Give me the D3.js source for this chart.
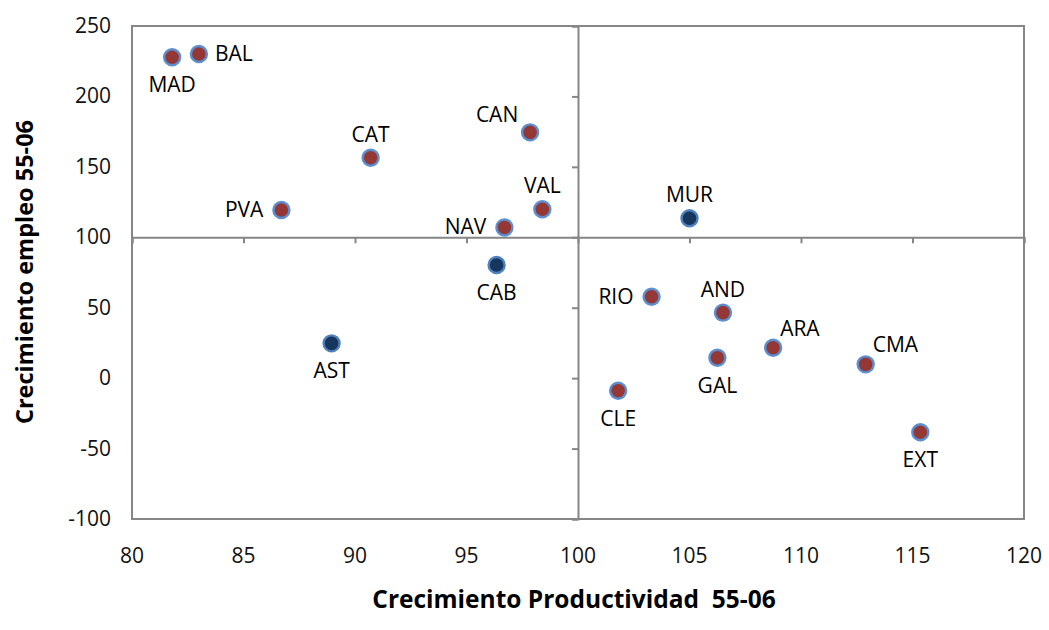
<!DOCTYPE html>
<html><head><meta charset="utf-8">
<script src="https://cdn.jsdelivr.net/npm/d3@7"></script>
<style>body{margin:0;background:#fff}svg{display:block}text{font-family:"Open Sans",sans-serif}</style>
</head><body>
<svg id="c" width="1049" height="630"></svg>
<script>
const regions = ["MAD","BAL","CAT","PVA","CAN","VAL","NAV","MUR","CAB","AST","RIO","AND","GAL","ARA","CMA","CLE","EXT"];
const productividad = [81.8,83.0,90.7,86.7,97.85,98.4,96.7,105.0,96.35,88.95,103.3,106.5,106.25,108.75,112.9,101.8,115.35];
const empleo = [227.8,230.1,156.5,119.4,174.5,119.9,107,113.5,80.3,24.7,57.8,46.5,14.5,21.6,9.8,-8.9,-38.4];
const grupo = ["a","a","a","a","a","a","a","b","b","b","a","a","a","a","a","a","a"];
const labelPos = ["below","right","above","left","aboveleft","above","left","above","below","below","left","above","below","aboveright","aboveright","below","below"];
const xTicks = [80,85,90,95,100,105,110,115,120];
const yTicks = [-100,-50,0,50,100,150,200,250];
const xTitle = "Crecimiento Productividad  55-06";
const yTitle = "Crecimiento empleo 55-06";

const svg = d3.select("#c");
const L=132, R=1024, T=26, B=519;
const x = d3.scaleLinear().domain([80,120]).range([L,R]);
const y = d3.scaleLinear().domain([-100,250]).range([B,T]);
const grey="#868686";

svg.append("rect").attr("x",L).attr("y",T).attr("width",R-L).attr("height",B-T)
  .attr("fill","none").attr("stroke",grey).attr("stroke-width",2);

const xAxis = d3.axisBottom(x).tickValues(xTicks).tickSize(6).tickFormat("");
const gx = svg.append("g").attr("transform",`translate(0,${y(100)})`).call(xAxis);
const yAxis = d3.axisLeft(y).tickValues(yTicks).tickSize(6).tickFormat("");
const gy = svg.append("g").attr("transform",`translate(${x(100)},0)`).call(yAxis);
[gx,gy].forEach(g=>{g.select(".domain").attr("stroke",grey).attr("stroke-width",2);
  g.selectAll(".tick line").attr("stroke",grey).attr("stroke-width",2);});

svg.append("g").selectAll("text").data(xTicks).join("text")
  .attr("x",d=>x(d)).attr("y",B+44).attr("text-anchor","middle")
  .attr("font-size",21).attr("fill","#111").text(d=>d);
svg.append("g").selectAll("text").data(yTicks).join("text")
  .attr("x",L-21).attr("y",d=>y(d)+7).attr("text-anchor","end")
  .attr("font-size",21).attr("fill","#111").text(d=>d);

svg.append("text").attr("x",574).attr("y",608).attr("text-anchor","middle")
  .attr("font-size",24.5).attr("font-weight","bold").attr("xml:space","preserve").text(xTitle);
svg.append("text").attr("transform","translate(33,272) rotate(-90)").attr("text-anchor","middle")
  .attr("font-size",23.5).attr("font-weight","bold").text(yTitle);

const pts = regions.map((r,i)=>({r,px:productividad[i],em:empleo[i],g:grupo[i],pos:labelPos[i]}));
svg.append("g").selectAll("circle").data(pts).join("circle")
  .attr("cx",d=>x(d.px)).attr("cy",d=>y(d.em)).attr("r",8)
  .attr("fill",d=>d.g==="a"?"#953735":"#17365d")
  .attr("stroke",d=>d.g==="a"?"#5b8fd0":"#4f81bd").attr("stroke-width",2.4);

const off = {below:[0,35,"middle"],above:[0,-16,"middle"],left:[-18,7,"end"],right:[16,7,"start"],
  aboveleft:[-33,-10,"middle"],aboveright:[7,-12,"start"]};
svg.append("g").selectAll("text").data(pts).join("text")
  .attr("x",d=>x(d.px)+off[d.pos][0]).attr("y",d=>y(d.em)+off[d.pos][1])
  .attr("text-anchor",d=>off[d.pos][2]).attr("font-size",21).attr("fill","#000").text(d=>d.r);
</script>
</body></html>
